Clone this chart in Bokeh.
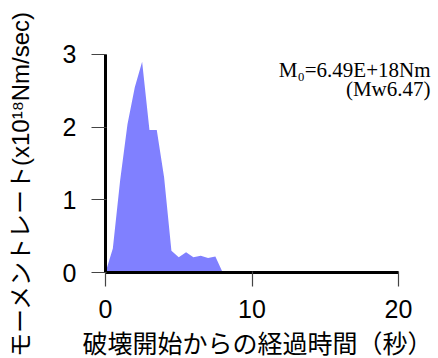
import math
from bokeh.plotting import figure
from bokeh.models import Range1d, FixedTicker, Label
from bokeh.embed import file_html
from bokeh.resources import INLINE

# data
time_s = [0.0, 0.5, 1.0, 1.5, 2.0, 2.5, 3.0, 3.5, 4.0, 4.5, 5.0, 5.5, 6.0, 6.5, 7.0, 7.5, 8.0]
moment_rate = [0.0, 0.33, 1.27, 2.04, 2.55, 2.90, 1.96, 1.96, 1.31, 0.30, 0.21, 0.28, 0.21, 0.23, 0.20, 0.22, 0.0]
x_ticks = [0, 10, 20]
y_ticks = [0, 1, 2, 3]
x_label = "破壊開始からの経過時間（秒）"
y_label = "モーメントレート(x10¹⁸Nm/sec)"
note_line1 = "M₀=6.49E+18Nm"
note_line2 = "(Mw6.47)"

W, H = 438, 358
p = figure(width=W, height=H, output_backend="svg", toolbar_location=None,
           x_range=Range1d(-7.167, 22.73), y_range=Range1d(-1.183, 3.743),
           min_border=0)
p.outline_line_color = None
p.background_fill_color = "white"
p.border_fill_color = "white"
p.xgrid.visible = False
p.ygrid.visible = False

p.varea(x=time_s, y1=0, y2=moment_rate, fill_color="#8080ff", fill_alpha=1.0)

for ax, ticks in ((p.xaxis[0], x_ticks), (p.yaxis[0], y_ticks)):
    ax.fixed_location = 0
    ax.ticker = FixedTicker(ticks=ticks, minor_ticks=[])
    ax.bounds = (ticks[0], ticks[-1])
    ax.axis_line_color = "black"
    ax.axis_line_width = 3
    ax.major_tick_line_color = "#444444"
    ax.major_tick_line_width = 1.2
    ax.major_tick_in = 1
    ax.major_tick_out = 14
    ax.minor_tick_line_color = None
    ax.major_label_text_font = "Liberation Sans"
    ax.major_label_text_font_size = "25px"
    ax.major_label_text_color = "black"

p.yaxis[0].major_label_standoff = 15
p.xaxis[0].major_label_standoff = 13

p.add_layout(Label(x=20, y=174.5, x_units="screen", y_units="screen", text=y_label,
                   angle=math.pi / 2, text_align="center", text_baseline="middle",
                   text_font="Liberation Sans, Noto Sans CJK JP", text_font_size="24px",
                   text_color="black"))
p.add_layout(Label(x=257, y=17, x_units="screen", y_units="screen", text=x_label,
                   text_align="center", text_baseline="middle",
                   text_font="Noto Sans CJK JP", text_font_size="25px", text_color="black"))
p.add_layout(Label(x=430, y=289, x_units="screen", y_units="screen", text=note_line1,
                   text_align="right", text_baseline="middle",
                   text_font="Liberation Serif", text_font_size="21px", text_color="black"))
p.add_layout(Label(x=430, y=270, x_units="screen", y_units="screen", text=note_line2,
                   text_align="right", text_baseline="middle",
                   text_font="Liberation Serif", text_font_size="21px", text_color="black"))

open("out.html", "w").write(file_html(p, INLINE))
